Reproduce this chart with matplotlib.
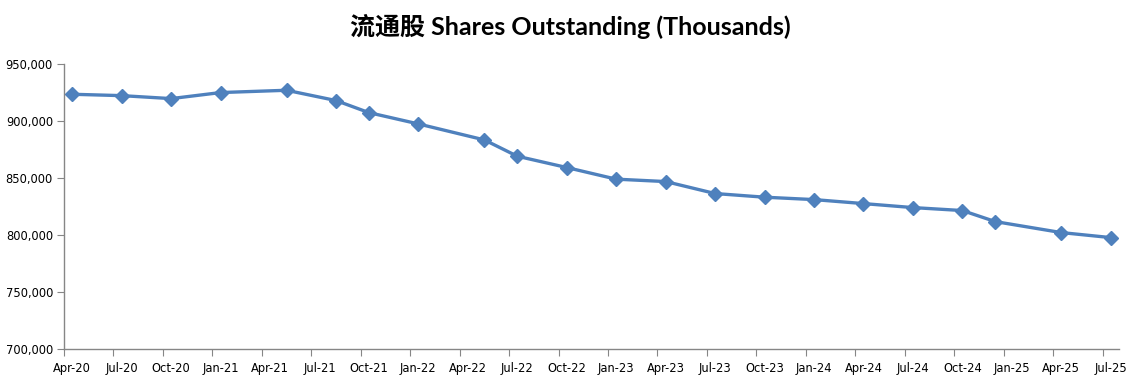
import matplotlib
matplotlib.use('Agg')
import matplotlib.pyplot as plt
from matplotlib.ticker import FuncFormatter, FixedLocator
import pandas as pd

# data (thousands of shares)
dates = ['2020-04', '2020-07', '2020-10', '2021-01', '2021-05', '2021-08',
         '2021-10', '2022-01', '2022-05', '2022-07', '2022-10', '2023-01',
         '2023-04', '2023-07', '2023-10', '2024-01', '2024-04', '2024-07',
         '2024-10', '2024-12', '2025-04', '2025-07']
shares = [923400, 922200, 919600, 924900, 926900, 917900,
          907300, 897400, 883400, 869100, 859200, 849000,
          846900, 836400, 833200, 831100, 827600, 824100,
          821500, 811800, 802200, 797800]

start = pd.Period('2020-04', freq='M')
end = pd.Period('2025-07', freq='M')
months = [(pd.Period(d, freq='M') - start).n for d in dates]
n_months = (end - start).n

label_idx = list(range(0, n_months + 1, 3))
label_txt = [(start + i).strftime('%b-%y') for i in label_idx]

fig = plt.figure(figsize=(11.43, 3.85), dpi=100)
ax = fig.add_axes([0.056, 0.093, 0.923, 0.741])

ax.plot(months, shares, color='#4F81BD', lw=2.4, marker='D', ms=7,
        markeredgecolor='#4F81BD', markerfacecolor='#4F81BD')

ax.set_xlim(-0.5, n_months + 0.5)
ax.set_ylim(700000, 950000)
ax.set_yticks(range(700000, 950001, 50000))
ax.yaxis.set_major_formatter(FuncFormatter(lambda v, p: f'{int(v):,}'))

# tick marks between months, labels on month centres
ax.xaxis.set_major_locator(FixedLocator([i - 0.5 for i in label_idx]))
ax.xaxis.set_minor_locator(FixedLocator(label_idx))
ax.set_xticklabels([], minor=False)
ax.set_xticklabels(label_txt, minor=True)
ax.tick_params(axis='x', which='major', length=5, color='#868686', direction='out')
ax.tick_params(axis='x', which='minor', length=0, labelsize=8.3, pad=9)
ax.tick_params(axis='y', length=5, color='#868686', labelsize=8.3, pad=3)

for s in ['top', 'right']:
    ax.spines[s].set_visible(False)
for s in ['left', 'bottom']:
    ax.spines[s].set_color('#868686')
    ax.spines[s].set_linewidth(1.0)

fig.text(0.499, 0.93, '流通股 Shares Outstanding (Thousands)', ha='center', va='center',
         fontsize=18, fontweight='bold', family=['Lato', 'Noto Sans CJK SC'])

fig.savefig('out.png', dpi=100)
